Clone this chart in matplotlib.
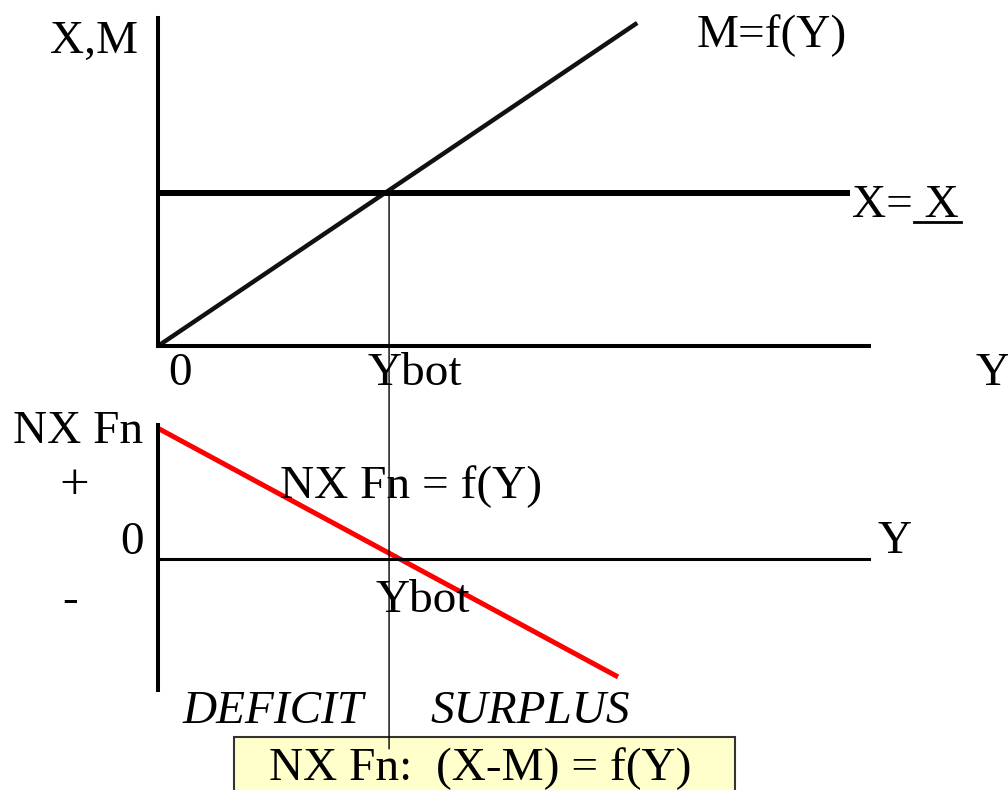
## Diagramme: exportations, importations et fonction d'exportations nettes

import matplotlib.pyplot as plt
from matplotlib.patches import ConnectionPatch, Rectangle
from matplotlib.lines import Line2D

plt.rcParams['font.family'] = ['Liberation Serif', 'DejaVu Serif']

# Données du diagramme (unités arbitraires)
Y_M = [0, 6.74]          # revenu pour la droite M = f(Y)
M = [0, 9.85]            # importations
Y_X = [0, 9.73]          # revenu pour la droite X
X = [4.66, 4.66]         # exportations (constantes)
Y_BOT = 3.25             # revenu d'équilibre commercial
Y_NX = [0, 6.47]         # revenu pour NX Fn
NX = [4.0, -3.6]         # exportations nettes
DROP_END = -5.8          # bas de la ligne verticale (panneau du bas)

W, H = 1008, 790


def fx(px):
    return px / W


def fy(py):
    return 1 - py / H


fig = plt.figure(figsize=(W / 100, H / 100), dpi=100)

# Panneau du haut: X, M
ax1 = fig.add_axes([fx(158), fy(346), 711 / W, 328 / H])
ax1.set_xlim(0, 10)
ax1.set_ylim(0, 10)
ax1.plot(Y_M, M, color='#111111', lw=3.2, solid_capstyle='butt')
ax1.plot(Y_X, X, color='black', lw=4.3, solid_capstyle='butt')
for s in ['top', 'right']:
    ax1.spines[s].set_visible(False)
for s in ['left', 'bottom']:
    ax1.spines[s].set_linewidth(2.9)
ax1.set_xticks([])
ax1.set_yticks([])
ax1.patch.set_alpha(0)

# Panneau du bas: NX Fn
ax2 = fig.add_axes([fx(158), fy(690), 711 / W, 265 / H])
ax2.set_xlim(0, 10)
ax2.set_ylim(-4.0, 4.1)
ax2.plot(Y_NX, NX, color='#ff0000', lw=3.6, solid_capstyle='butt')
for s in ['top', 'right']:
    ax2.spines[s].set_visible(False)
ax2.spines['bottom'].set_position(('data', 0))
ax2.spines['bottom'].set_linewidth(2.2)
ax2.spines['left'].set_linewidth(2.9)
ax2.set_xticks([])
ax2.set_yticks([])
ax2.patch.set_alpha(0)

# Encadré du bas
box = Rectangle((fx(234), -0.05), 501 / W, fy(737) + 0.05, transform=fig.transFigure,
                facecolor='#ffffcc', edgecolor='#333333', lw=1.5, zorder=1)
fig.add_artist(box)

# Ligne verticale à Ybot
drop = ConnectionPatch(xyA=(Y_BOT, X[0]), coordsA=ax1.transData,
                       xyB=(Y_BOT, DROP_END), coordsB=ax2.transData,
                       color='black', lw=1.0, zorder=3)
fig.add_artist(drop)

fs = 34
txt = dict(fontsize=fs, va='baseline', ha='left')
fig.text(fx(50), fy(53), "X,M", **txt)
fig.text(fx(697), fy(47), "M=f(Y)", **txt)
fig.text(fx(852), fy(217), "X= X", **txt)
fig.add_artist(Line2D([fx(914), fx(961)], [fy(222), fy(222)], color='black', lw=2))
fig.text(fx(168), fy(385), "0", **txt)
fig.text(fx(367), fy(385), "Ybot", **txt)
fig.text(fx(975), fy(385), "Y", **txt)
fig.text(fx(13), fy(443), "NX Fn", **txt)
fig.text(fx(74), fy(486), "+", fontsize=38, ha='center', va='center')
fig.text(fx(280), fy(498), "NX Fn = f(Y)", **txt)
fig.text(fx(120), fy(554), "0", **txt)
fig.text(fx(878), fy(553), "Y", **txt)
fig.text(fx(62), fy(612), "-", **txt)
fig.text(fx(375), fy(612), "Ybot", **txt)
fig.text(fx(183), fy(723), "DEFICIT", style='italic', **txt)
fig.text(fx(430), fy(723), "SURPLUS", style='italic', **txt)
fig.text(fx(269), fy(780), "NX Fn:  (X-M) = f(Y)", zorder=4, **txt)

plt.savefig("out.png", dpi=100)
